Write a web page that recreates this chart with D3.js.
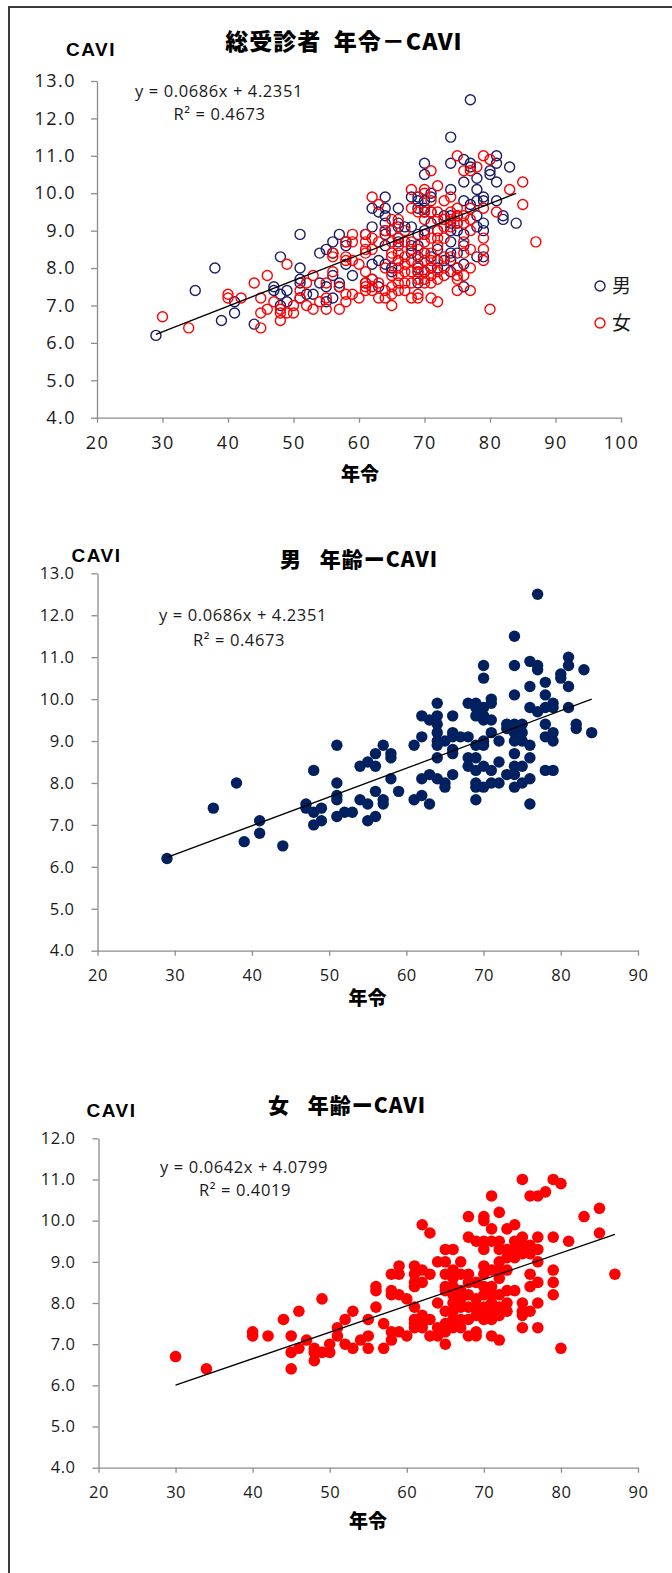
<!DOCTYPE html>
<html>
<head>
<meta charset="utf-8">
<script src="https://cdn.jsdelivr.net/npm/d3@7"></script>
<style>
  body { margin: 0; background: #fff; }
  svg { display: block; }
</style>
</head>
<body>
<div id="chart"></div>
<script>
// ---- data ----
const maleAge = [
    29, 35, 38, 39, 41, 41, 44,
    47, 47, 48, 48, 48, 49, 49,
    51, 51, 51, 51, 51, 52, 53,
    54, 54, 55, 55, 55, 56, 56, 56, 56,
    57, 57, 57, 58, 58, 58, 59, 61, 61,
    62, 62, 62, 62, 63, 63, 63,
    64, 64, 64, 64, 64, 64, 64, 64,
    65, 65, 65, 66, 66, 66, 66, 66, 66, 67,
    68, 68, 68, 68,
    69, 69, 69, 69, 69, 69, 69, 69, 69,
    70, 70, 70, 70, 70, 70, 70, 70, 70,
    71, 71, 71, 71, 71, 71,
    72, 72, 72, 73, 73, 73,
    74, 74, 74, 74, 74, 74, 74, 74, 74, 74,
    75, 75, 75, 75, 75,
    76, 76, 76, 76, 76, 76, 76,
    77, 77, 77, 77,
    78, 78, 78, 78, 78, 78,
    79, 79, 79, 79, 79,
    80, 80, 81, 81, 81, 81, 82, 82, 83, 84
];
const maleCavi = [
    6.2, 7.4, 8.0, 6.6, 7.1, 6.8, 6.5,
    7.5, 7.4, 8.3, 7.3, 7.0, 7.4, 7.1,
    8.9, 8.0, 7.7, 7.6, 7.2, 7.3, 7.3,
    8.4, 7.6, 8.5, 7.5, 7.1, 8.7, 8.4, 7.8, 7.2,
    8.9, 7.6, 7.5, 8.7, 8.6, 8.1, 7.8, 8.9, 7.6,
    9.6, 9.1, 8.1, 7.7, 9.5, 8.2, 7.5,
    9.9, 9.6, 9.4, 9.2, 9.0, 8.9, 8.6, 8.1,
    9.0, 8.0, 7.9, 9.6, 9.2, 9.1, 8.8, 8.7, 8.2, 9.1,
    9.9, 9.1, 8.6, 8.4,
    9.9, 9.8, 9.6, 8.9, 8.6, 8.3, 8.0, 7.9, 7.6,
    10.8, 10.5, 9.8, 9.6, 9.5, 9.0, 8.9, 8.4, 7.9,
    10.0, 9.9, 9.5, 9.2, 8.3, 8.0,
    9.0, 8.5, 8.0, 9.4, 9.3, 8.2,
    11.5, 10.8, 10.1, 9.4, 9.2, 9.0, 8.7, 8.4, 8.2, 7.9,
    9.4, 9.2, 9.0, 8.4, 8.0,
    10.9, 10.3, 9.8, 8.9, 8.6, 8.1, 7.5,
    12.5, 10.8, 10.7, 9.7,
    10.4, 10.1, 9.8, 9.4, 9.1, 8.3,
    9.9, 9.8, 9.2, 9.0, 8.3,
    10.6, 10.5, 11.0, 10.8, 10.3, 9.8, 9.4, 9.3, 10.7, 9.2
];

const femaleAge = [
    30, 34, 40, 40, 42, 44, 45, 45, 45,
    46, 46, 47, 48, 48, 48, 49, 49,
    50, 50, 51, 51, 52, 52, 53, 53, 54,
    55, 55, 55, 56, 56, 56, 57, 57,
    58, 58, 58, 58, 58,
    59, 59, 59, 59, 60, 60,
    61, 61, 61, 61, 61, 61, 61, 61,
    62, 62, 62, 62, 62, 62,
    63, 63, 63, 63,
    64, 64, 64, 64,
    65, 65, 65, 65, 65, 65, 65, 65, 65,
    66, 66, 66, 66, 66, 66, 66, 66, 66,
    67, 67, 67, 67, 67, 67, 67,
    68, 68, 68, 68, 68, 68, 68, 68,
    69, 69, 69, 69, 69, 69, 69,
    70, 70, 70, 70, 70, 70, 70, 70, 70, 70, 70,
    71, 71, 71, 71, 71, 71, 71, 71, 71, 71,
    72, 72, 72, 72, 72, 72, 72, 72, 72, 72,
    73, 73, 73, 73, 73, 73, 73,
    74, 74, 74, 74, 74,
    75, 75, 75, 75, 75, 75, 75, 75,
    76, 76, 76, 76, 76, 76,
    77, 77, 77, 77, 77, 77, 77,
    78,
    79, 79, 79, 79, 79,
    80, 80, 81, 83, 85, 85, 87
];
const femaleCavi = [
    6.7, 6.4, 7.3, 7.2, 7.2, 7.6, 7.2, 6.8, 6.4,
    7.8, 6.9, 7.1, 6.9, 6.8, 6.6, 8.1, 6.8,
    7.0, 6.8, 7.4, 7.2, 7.6, 7.0, 7.8, 6.9, 7.1,
    7.6, 7.2, 6.9, 8.4, 8.3, 7.9, 7.5, 6.9,
    8.7, 8.3, 8.2, 7.3, 7.1,
    8.9, 8.7, 8.2, 7.3, 8.1, 7.2,
    8.9, 8.7, 8.5, 8.4, 7.9, 7.6, 7.5, 7.4,
    9.9, 8.8, 8.5, 7.7, 7.5, 7.4,
    9.7, 8.7, 7.6, 7.2,
    9.0, 8.0, 7.4, 7.2,
    9.3, 9.0, 8.7, 8.4, 8.3, 7.8, 7.5, 7.3, 7.0,
    9.3, 8.8, 8.6, 8.4, 8.2, 8.0, 7.8, 7.6, 7.4,
    9.0, 8.7, 8.3, 8.1, 7.9, 7.6, 7.4,
    10.1, 9.6, 8.7, 8.5, 8.2, 7.9, 7.6, 7.2,
    9.5, 8.5, 8.1, 7.9, 7.7, 7.3, 7.2,
    10.1, 10.0, 9.5, 9.3, 8.9, 8.7, 8.4, 8.2, 7.9, 7.7, 7.6,
    10.6, 9.8, 9.5, 8.8, 8.4, 8.2, 8.0, 7.8, 7.6, 7.2,
    10.2, 9.5, 9.3, 9.0, 8.8, 8.6, 8.2, 7.9, 7.7, 7.1,
    9.8, 9.3, 9.1, 8.8, 8.3, 8.0, 7.8,
    9.9, 9.5, 9.3, 9.1, 8.3,
    11.0, 9.6, 9.4, 9.2, 8.0, 7.8, 7.7, 7.4,
    10.6, 9.4, 9.2, 8.7, 8.4, 7.8,
    10.6, 9.6, 9.3, 9.0, 8.5, 8.0, 7.4,
    10.7,
    11.0, 9.6, 8.8, 8.5, 8.2,
    10.9, 6.9, 9.5, 10.1, 10.3, 9.7, 8.7
];

// trendline coefficients as printed on the chart
const maleFit = { slope: 0.0686, intercept: 4.2351, r2: 0.4673 };
const femaleFit = { slope: 0.0642, intercept: 4.0799, r2: 0.4019 };

const xTicksAll = [20, 30, 40, 50, 60, 70, 80, 90, 100];
const xTicksSex = [20, 30, 40, 50, 60, 70, 80, 90];
const yTicks13 = [4, 5, 6, 7, 8, 9, 10, 11, 12, 13];
const yTicks12 = [4, 5, 6, 7, 8, 9, 10, 11, 12];

const titles = ['総受診者\u2002年令－CAVI', '男\u2002\u2005年齢ーCAVI', '女\u2002\u2005年齢ーCAVI'];
const seriesNames = ['男', '女'];

const NAVY = '#002060',
      NAVY_LINE = '#1c1c66',
      RED = '#ff0000',
      AXIS = '#8c8c8c',
      NUM_FONT = '"Open Sans", "Noto Sans", sans-serif',
      JP_FONT = '"Noto Sans CJK JP", sans-serif';

const svg = d3.select('#chart')
    .append('svg')
    .attr('width', 672)
    .attr('height', 1573);

svg.append('rect').attr('width', 672).attr('height', 1573).attr('fill', '#fff');

// outer frame (top and left edge only are visible)
svg.append('path')
    .attr('d', 'M9,1573 V7 H672')
    .attr('fill', 'none')
    .attr('stroke', '#3a3a3a')
    .attr('stroke-width', 2);

const makePoints = (ages, cavis) => ages.map((a, i) => ({ age: a, cavi: cavis[i] }));

const drawChart = (cfg) => {
    const x = d3.scaleLinear().domain(cfg.xDomain).range(cfg.xRange);
    const y = d3.scaleLinear().domain(cfg.yDomain).range(cfg.yRange);
    const g = svg.append('g');

    const xAxis = g.append('g')
        .attr('transform', `translate(0,${cfg.yRange[0]})`)
        .call(d3.axisBottom(x).tickValues(cfg.xTicks).tickSize(5).tickSizeOuter(0)
            .tickPadding(cfg.xPad).tickFormat(d3.format('d')));

    const yAxis = g.append('g')
        .attr('transform', `translate(${cfg.xRange[0]},0)`)
        .call(d3.axisLeft(y).tickValues(cfg.yTicks).tickSize(6).tickSizeOuter(0)
            .tickPadding(cfg.yPad).tickFormat(d3.format('.1f')));

    [xAxis, yAxis].forEach(ax => {
        ax.selectAll('path, line').attr('stroke', AXIS).attr('stroke-width', 1.3);
        ax.selectAll('text')
            .attr('fill', '#1a1a1a')
            .style('font-family', NUM_FONT)
            .style('font-size', cfg.tickFont + 'px')
            .style('letter-spacing', cfg.tickSpacing + 'px');
    });

    cfg.series.forEach(s => {
        g.selectAll(null)
            .data(makePoints(s.age, s.cavi))
            .enter()
            .append('circle')
            .attr('cx', d => x(d.age))
            .attr('cy', d => y(d.cavi))
            .attr('r', cfg.r)
            .attr('fill', s.filled ? s.color : 'none')
            .attr('stroke', s.color)
            .attr('stroke-width', s.filled ? 0 : 1.4);
    });

    // linear trendline over the age range of the fitted series
    const [a0, a1] = d3.extent(cfg.fit.ages);
    const line = d3.line().x(d => x(d)).y(d => y(cfg.fit.slope * d + cfg.fit.intercept));
    g.append('path')
        .attr('d', line([a0, a1]))
        .attr('stroke', '#000')
        .attr('stroke-width', 1.3)
        .attr('fill', 'none');

    // equation label
    g.append('text')
        .attr('x', cfg.eq[0]).attr('y', cfg.eq[1])
        .attr('text-anchor', 'middle')
        .style('font-family', NUM_FONT)
        .style('font-size', '16.5px')
        .style('letter-spacing', '0.6px')
        .attr('fill', '#1a1a1a')
        .text(`y = ${cfg.fit.slope.toFixed(4)}x + ${cfg.fit.intercept.toFixed(4)}`);
    g.append('text')
        .attr('x', cfg.eq[2]).attr('y', cfg.eq[3])
        .attr('text-anchor', 'middle')
        .style('font-family', NUM_FONT)
        .style('font-size', '16.5px')
        .style('letter-spacing', '0.6px')
        .attr('fill', '#1a1a1a')
        .text(`R² = ${cfg.fit.r2.toFixed(4)}`);

    // title
    g.append('text')
        .attr('x', cfg.title[0]).attr('y', cfg.title[1])
        .attr('text-anchor', 'middle')
        .style('font-family', JP_FONT)
        .style('font-weight', 900)
        .style('font-size', cfg.titleFont + 'px')
        .style('letter-spacing', '1px')
        .attr('fill', '#000')
        .text(cfg.titleText);

    // y axis name
    g.append('text')
        .attr('x', cfg.yName[0]).attr('y', cfg.yName[1])
        .style('font-family', '"Liberation Sans", Arial, sans-serif')
        .style('font-weight', 700)
        .style('font-size', '19px')
        .style('letter-spacing', '1.5px')
        .attr('fill', '#000')
        .text('CAVI');

    // x axis name
    g.append('text')
        .attr('x', cfg.xName[0]).attr('y', cfg.xName[1])
        .attr('text-anchor', 'middle')
        .style('font-family', JP_FONT)
        .style('font-weight', 900)
        .style('font-size', '19px')
        .attr('fill', '#000')
        .text('年令');

    if (cfg.legend) {
        cfg.series.forEach((s, i) => {
            const ly = cfg.legend[1] + i * cfg.legend[2];
            g.append('circle')
                .attr('cx', cfg.legend[0]).attr('cy', ly).attr('r', cfg.r)
                .attr('fill', 'none').attr('stroke', s.color).attr('stroke-width', 1.4);
            g.append('text')
                .attr('x', cfg.legend[0] + 12).attr('y', ly + 7)
                .style('font-family', JP_FONT)
                .style('font-size', '19px')
                .attr('fill', '#1a1a1a')
                .text(s.name);
        });
    }
};

drawChart({
    xDomain: [20, 100], xRange: [97, 621], xTicks: xTicksAll,
    yDomain: [4, 13], yRange: [417.7, 81], yTicks: yTicks13,
    xPad: 14, yPad: 15, tickFont: 18, tickSpacing: 1.5, r: 5,
    series: [
        { name: seriesNames[0], age: maleAge, cavi: maleCavi, color: NAVY_LINE, filled: false },
        { name: seriesNames[1], age: femaleAge, cavi: femaleCavi, color: RED, filled: false }
    ],
    fit: Object.assign({ ages: maleAge }, maleFit),
    eq: [219, 97, 219.5, 120],
    title: [344, 50], titleText: titles[0], titleFont: 23,
    yName: [66, 56], xName: [360, 481],
    legend: [600, 286, 37]
});

drawChart({
    xDomain: [20, 90], xRange: [97.5, 638], xTicks: xTicksSex,
    yDomain: [4, 13], yRange: [950.7, 573.3], yTicks: yTicks13,
    xPad: 14, yPad: 17, tickFont: 16.5, tickSpacing: 0.5, r: 5.7,
    series: [
        { name: seriesNames[0], age: maleAge, cavi: maleCavi, color: NAVY, filled: true }
    ],
    fit: Object.assign({ ages: maleAge }, maleFit),
    eq: [243, 621, 239, 646],
    title: [359, 567], titleText: titles[1], titleFont: 21,
    yName: [71.5, 562], xName: [367.5, 1005]
});

drawChart({
    xDomain: [20, 90], xRange: [98.5, 638], xTicks: xTicksSex,
    yDomain: [4, 12], yRange: [1467.7, 1138.3], yTicks: yTicks12,
    xPad: 14, yPad: 17, tickFont: 16.5, tickSpacing: 0.5, r: 5.8,
    series: [
        { name: seriesNames[1], age: femaleAge, cavi: femaleCavi, color: RED, filled: true }
    ],
    fit: Object.assign({ ages: femaleAge }, femaleFit),
    eq: [244, 1173, 245, 1196],
    title: [347, 1113], titleText: titles[2], titleFont: 21,
    yName: [86.5, 1117], xName: [368, 1528]
});
</script>
</body>
</html>
